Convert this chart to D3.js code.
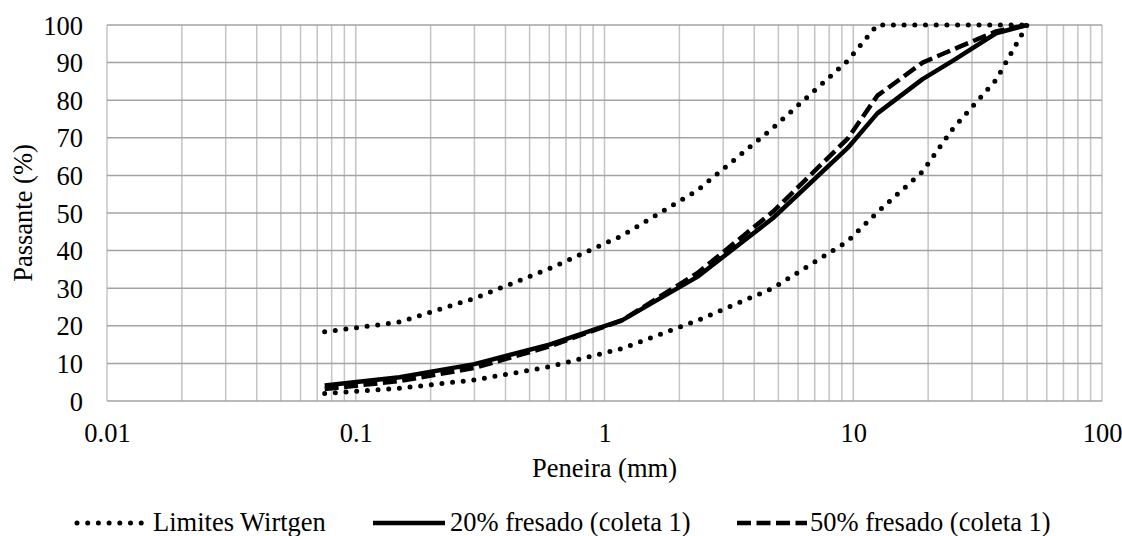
<!DOCTYPE html>
<html>
<head>
<meta charset="utf-8"/>
<title>Curva granulométrica</title>
<script src="https://d3js.org/d3.v7.min.js"></script>
<style>
  body { margin: 0; padding: 0; background: #fff; font-family: "Liberation Serif", serif; }
</style>
</head>
<body>
<svg id="chart" width="1122" height="536"></svg>
<script>
  // Peneiras (mm) e % passante
  const sieves = [0.075, 0.15, 0.3, 0.6, 1.18, 2.36, 4.75, 9.5, 12.5, 19, 25, 37.5, 50];
  const wirtgenUpper = [18.4, 21, 27.3, 35.2, 44, 56, 72.6, 90.5, 100, 100, 100, 100, 100];
  const wirtgenLower = [2, 3.4, 5.6, 9.1, 14, 21.4, 30, 42.5, 50.2, 61, 72.2, 85.4, 100];
  const fresado20 = [4.1, 6.3, 9.8, 15, 21.5, 33, 48.6, 67.3, 76.5, 85.6, 90.4, 97.8, 100];
  const fresado50 = [3.2, 5.3, 8.8, 14.5, 21.5, 34, 50.3, 69.8, 81.2, 90, 93.4, 98.3, 100];
  const xTicks = [0.01, 0.1, 1, 10, 100];
  const yTicks = [0, 10, 20, 30, 40, 50, 60, 70, 80, 90, 100];
  const legendLabels = ["Limites Wirtgen", "20% fresado (coleta 1)", "50% fresado (coleta 1)"];

  const plot = { left: 107, right: 1102, top: 25, bottom: 401 };
  const FONT = '"Liberation Serif"';
  const FS = 26.5;

  // warm up the font so the svg text uses it
  const ctx = document.createElement("canvas").getContext("2d");
  ctx.font = `${FS}px "Liberation Serif"`;
  ctx.measureText("Passante (%)");

  function draw() {
    const svg = d3.select("#chart");

    const x = d3.scaleLog().domain([0.01, 100]).range([plot.left, plot.right]);
    const y = d3.scaleLinear().domain([0, 100]).range([plot.bottom, plot.top]);

    // vertical grid (log minor lines)
    const vGrid = [];
    [0.01, 0.1, 1, 10].forEach(dec => {
      for (let k = 1; k <= 9; k++) vGrid.push(dec * k);
    });
    vGrid.push(100);

    svg.append("g")
      .selectAll("line")
      .data(vGrid)
      .enter().append("line")
      .attr("x1", d => x(d)).attr("x2", d => x(d))
      .attr("y1", plot.top).attr("y2", plot.bottom)
      .attr("stroke", "#c4c4c4")
      .attr("stroke-width", 1.5);

    // horizontal grid
    svg.append("g")
      .selectAll("line")
      .data(yTicks)
      .enter().append("line")
      .attr("x1", plot.left).attr("x2", plot.right)
      .attr("y1", d => y(d)).attr("y2", d => y(d))
      .attr("stroke", "#a3a3a3")
      .attr("stroke-width", 1.5);

    // axes
    const yAxis = svg.append("g")
      .attr("transform", `translate(${plot.left},0)`)
      .call(d3.axisLeft(y).tickValues(yTicks).tickSize(0).tickPadding(24))
      .attr("font-family", FONT)
      .attr("font-size", FS);
    yAxis.select(".domain").remove();
    yAxis.selectAll("text").attr("dy", "0.34em").attr("fill", "#000");

    const xAxis = svg.append("g")
      .attr("transform", `translate(0,${plot.bottom})`)
      .call(d3.axisBottom(x).tickValues(xTicks).tickFormat(d => String(d)).tickSize(0))
      .attr("font-family", FONT)
      .attr("font-size", FS);
    xAxis.select(".domain").remove();
    xAxis.selectAll("text").attr("y", 41).attr("dy", 0).attr("fill", "#000");

    // axis titles
    svg.append("text")
      .attr("transform", `translate(32,${(plot.top + plot.bottom) / 2}) rotate(-90)`)
      .attr("text-anchor", "middle")
      .attr("font-family", FONT)
      .attr("font-size", FS)
      .text("Passante (%)");

    svg.append("text")
      .attr("x", (plot.left + plot.right) / 2)
      .attr("y", 477)
      .attr("text-anchor", "middle")
      .attr("font-family", FONT)
      .attr("font-size", FS)
      .text("Peneira (mm)");

    // series
    const line = d3.line()
      .x(d => x(d[0]))
      .y(d => y(d[1]));

    const styles = {
      dotted: { width: 5, dash: "0,10.7", cap: "round" },
      solid: { width: 4.5, dash: null, cap: "butt" },
      dashed: { width: 4.5, dash: "14,5.5", cap: "butt" }
    };

    function drawSeries(values, st) {
      svg.append("path")
        .datum(sieves.map((s, i) => [s, values[i]]))
        .attr("fill", "none")
        .attr("stroke", "#000")
        .attr("stroke-width", st.width)
        .attr("stroke-dasharray", st.dash)
        .attr("stroke-linecap", st.cap)
        .attr("stroke-linejoin", "round")
        .attr("d", line);
    }

    drawSeries(wirtgenUpper, styles.dotted);
    drawSeries(wirtgenLower, styles.dotted);
    drawSeries(fresado20, styles.solid);
    drawSeries(fresado50, styles.dashed);

    // legend
    const legendY = 523;
    const legendItems = [
      { x0: 77, x1: 147, tx: 153, st: styles.dotted },
      { x0: 373, x1: 445, tx: 450, st: styles.solid },
      { x0: 737, x1: 807, tx: 810, st: styles.dashed }
    ];
    legendItems.forEach((it, i) => {
      svg.append("line")
        .attr("x1", it.x0).attr("x2", it.x1)
        .attr("y1", legendY).attr("y2", legendY)
        .attr("stroke", "#000")
        .attr("stroke-width", it.st.width)
        .attr("stroke-dasharray", it.st.dash)
        .attr("stroke-linecap", it.st.cap);
      svg.append("text")
        .attr("x", it.tx)
        .attr("y", legendY + 8)
        .attr("font-family", FONT)
        .attr("font-size", FS)
        .text(legendLabels[i]);
    });
  }

  draw();
</script>
</body>
</html>
